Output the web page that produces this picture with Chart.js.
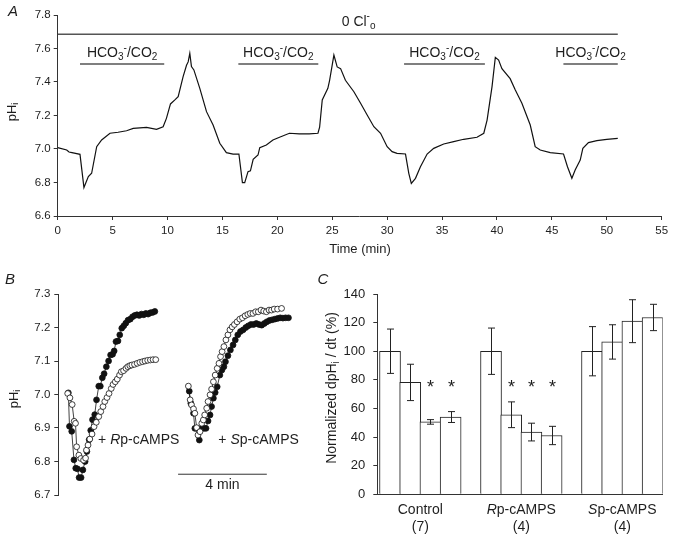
<!DOCTYPE html>
<html>
<head>
<meta charset="utf-8">
<script src="https://cdn.jsdelivr.net/npm/chart.js@4.4.1/dist/chart.umd.min.js"></script>
<style>
  body { margin: 0; background: #fff; width: 677px; height: 536px; overflow: hidden; position: relative; }
  .panel { position: absolute; }
</style>
</head>
<body>
<div class="panel" style="left:0;top:0"><canvas id="chartA" width="677" height="270"></canvas></div>
<div class="panel" style="left:0;top:270px"><canvas id="chartB" width="300" height="266"></canvas></div>
<div class="panel" style="left:290px;top:270px"><canvas id="chartC" width="387" height="266"></canvas></div>
<script>
// ---- panel A: pHi trace (min, pH)
const timeA = [
  0, 0.82, 1.03, 1.3, 2.03, 2.39, 2.79, 3.09, 3.55, 4.0,
  4.76, 5.5, 6.27, 6.88, 8.09, 9.0, 9.6, 9.9, 10.27, 10.67,
  10.97, 11.42, 11.73, 11.88, 12.03, 12.18, 12.4, 12.94, 13.55, 14.15,
  14.76, 15.36, 15.97, 16.5, 16.82, 17.03, 17.33, 17.55, 17.8, 18.24,
  18.4, 19.0, 19.6, 20.2, 21.1, 22.0, 22.9, 23.7, 23.85, 24.09,
  24.6, 24.76, 25.15, 25.45, 25.76, 26.2, 26.97, 27.58, 28.18, 28.79,
  29.4, 30.0, 30.45, 30.9, 31.67, 31.97, 32.2, 32.58, 33.03, 33.64,
  34.24, 35.15, 36.06, 36.97, 38.18, 38.8, 39.1, 39.55, 39.85, 40.15,
  40.45, 41.2, 41.67, 42.27, 43.03, 43.48, 43.94, 44.85, 46.06, 46.42,
  46.82, 47.12, 47.58, 47.82, 48.33, 49.1, 50.0, 51.0
];
const phA = [
  7.008, 6.994, 6.982, 6.978, 6.968, 6.77, 6.835, 6.855, 7.014, 7.054,
  7.094, 7.10, 7.109, 7.123, 7.129, 7.117, 7.133, 7.183, 7.269, 7.293,
  7.312, 7.432, 7.50, 7.52, 7.571, 7.492, 7.472, 7.362, 7.223, 7.143,
  7.034, 6.978, 6.97, 6.97, 6.799, 6.799, 6.865, 6.87, 6.938, 6.964,
  7.008, 7.024, 7.054, 7.07, 7.094, 7.09, 7.09, 7.094, 7.13, 7.293,
  7.362, 7.41, 7.561, 7.49, 7.48, 7.41, 7.342, 7.273, 7.203, 7.133,
  7.094, 7.014, 6.984, 6.974, 6.97, 6.855, 6.795, 6.825, 6.894, 6.97,
  7.004, 7.03, 7.044, 7.058, 7.07, 7.094, 7.173, 7.372, 7.547, 7.531,
  7.48, 7.42, 7.352, 7.273, 7.143, 7.014, 6.994, 6.978, 6.97, 6.894,
  6.825, 6.875, 6.934, 7.004, 7.038, 7.05, 7.058, 7.064
];
const chlorideFree = [0, 51];              // 0 Cl-o period (min)
const hcoStart = [2.03, 16.45, 31.54, 46.05];
const hcoEnd = [9.7, 23.73, 38.9, 51.0];

// ---- panel B: recovery traces (min, pH)
const tRpFilled = [0.45,0.50,0.60,0.70,0.78,0.86,0.93,1.02,1.10,1.20,1.28,1.38,1.45,1.53,1.63,1.71,1.81,1.88,1.97,2.05,2.15,2.25,2.34,2.43,2.50,2.58,2.67,2.75,2.84,2.93,3.02,3.12,3.22,3.32,3.42,3.52,3.62,3.72,3.82,3.92,4.02,4.12,4.22,4.32];
const phRpFilled = [7.005,6.905,6.89,6.805,6.78,6.778,6.752,6.752,6.775,6.80,6.83,6.865,6.893,6.925,6.94,6.984,7.025,7.025,7.05,7.062,7.083,7.10,7.118,7.12,7.13,7.158,7.16,7.178,7.198,7.205,7.213,7.222,7.225,7.232,7.236,7.238,7.236,7.24,7.238,7.242,7.24,7.244,7.245,7.248];
const tRpOpen = [0.42,0.52,0.62,0.71,0.77,0.82,0.92,1.01,1.13,1.22,1.26,1.33,1.41,1.51,1.60,1.70,1.81,1.90,2.00,2.08,2.18,2.27,2.37,2.45,2.55,2.64,2.74,2.82,2.92,3.03,3.11,3.20,3.29,3.41,3.53,3.65,3.77,3.88,4.00,4.12,4.24,4.36];
const phRpOpen = [7.003,6.99,6.97,6.92,6.914,6.844,6.819,6.809,6.804,6.81,6.834,6.849,6.867,6.882,6.904,6.917,6.934,6.949,6.964,6.979,6.991,7.003,7.018,7.030,7.038,7.046,7.058,7.068,7.071,7.078,7.083,7.086,7.088,7.09,7.093,7.096,7.098,7.10,7.102,7.103,7.104,7.104];
const tSpFilled = [5.86,5.93,6.05,6.11,6.19,6.31,6.40,6.52,6.61,6.70,6.79,6.86,6.94,7.02,7.11,7.23,7.32,7.41,7.48,7.59,7.70,7.82,7.92,8.03,8.15,8.27,8.39,8.50,8.62,8.74,8.86,8.98,9.10,9.22,9.33,9.45,9.57,9.69,9.81,9.93,10.05,10.17,10.30];
const phSpFilled = [7.01,6.974,6.944,6.899,6.899,6.864,6.899,6.899,6.899,6.921,6.939,6.964,6.989,7.006,7.023,7.058,7.073,7.083,7.098,7.116,7.133,7.148,7.163,7.178,7.188,7.193,7.20,7.205,7.209,7.209,7.212,7.209,7.207,7.212,7.217,7.221,7.223,7.225,7.227,7.229,7.228,7.229,7.229];
const tSpOpen = [5.82,5.90,5.96,6.05,6.11,6.19,6.25,6.34,6.42,6.49,6.55,6.64,6.70,6.79,6.86,6.94,7.02,7.11,7.19,7.26,7.33,7.41,7.50,7.59,7.68,7.78,7.88,8.00,8.12,8.24,8.36,8.48,8.59,8.71,8.83,8.95,9.07,9.19,9.31,9.43,9.54,9.66,9.81,9.99];
const phSpOpen = [7.025,6.984,6.969,6.957,6.944,6.901,6.879,6.889,6.914,6.924,6.939,6.959,6.979,6.999,7.016,7.038,7.058,7.078,7.093,7.113,7.128,7.143,7.163,7.178,7.193,7.202,7.209,7.217,7.225,7.229,7.235,7.239,7.242,7.242,7.247,7.247,7.252,7.249,7.247,7.252,7.252,7.255,7.255,7.257];
const scaleBarMin = [5.36, 9.33];          // 4 min

// ---- panel C: normalized dpHi/dt (%)
const groups = ['Control', 'Rp-cAMPS', 'Sp-cAMPS'];
const groupN = ['(7)', '(4)', '(4)'];
const controlMean = [100, 78.2, 50.6, 54.0];
const controlSem = [15.5, 12.7, 1.6, 3.8];
const rpMean = [100, 55.6, 43.5, 41.1];
const rpSem = [16.2, 9.0, 6.2, 6.4];
const spMean = [100, 106.5, 121.0, 123.6];
const spSem = [17.2, 12.0, 15.0, 9.2];
const controlSig = [false, false, true, true];
const rpSig = [false, true, true, true];
const spSig = [false, false, false, false];

// ---- shared
const FAM = '"Liberation Sans", Arial, Helvetica, sans-serif';
const INK = '#1e1e1e';
Chart.defaults.font.family = FAM;
Chart.defaults.color = INK;
Chart.defaults.animation = false;
Chart.defaults.plugins.legend.display = false;
Chart.defaults.plugins.tooltip.enabled = false;

// parts: [[text, mode]], mode '' | 'i' | 'sub' | 'sup'
function rich(ctx, parts, x, y, size, align, rot) {
  const font = m => (m === 'i' ? 'italic ' : '') + (m === 'sub' || m === 'sup' ? Math.round(size * 0.72) : size) + 'px ' + FAM;
  ctx.save();
  ctx.translate(x, y);
  if (rot) ctx.rotate(rot);
  let w = 0;
  parts.forEach(([t, m]) => { ctx.font = font(m); w += ctx.measureText(t).width; });
  let cx = align === 'center' ? -w / 2 : align === 'right' ? -w : 0;
  ctx.textAlign = 'left';
  ctx.textBaseline = 'middle';
  ctx.fillStyle = INK;
  parts.forEach(([t, m]) => {
    ctx.font = font(m);
    const dy = m === 'sub' ? size * 0.3 : m === 'sup' ? -size * 0.38 : 0;
    ctx.fillText(t, cx, dy);
    cx += ctx.measureText(t).width;
  });
  ctx.restore();
}

function axisStyle(extra) {
  return Object.assign({
    grid: { drawOnChartArea: false, tickLength: 4, color: '#333', lineWidth: 1 },
    border: { color: '#333', width: 1 }
  }, extra);
}

const HCO = [['HCO', ''], ['3', 'sub'], ['-', 'sup'], ['/CO', ''], ['2', 'sub']];
const PHI = [['pH', ''], ['i', 'sub']];

// ---------------- A
new Chart(document.getElementById('chartA'), {
  type: 'line',
  data: {
    datasets: [
      { data: timeA.map((t, i) => ({ x: t, y: phA[i] })), borderColor: '#111', borderWidth: 1.2, pointRadius: 0 },
      { data: chlorideFree.map(t => ({ x: t, y: 7.685 })), borderColor: '#555', borderWidth: 1.5, pointRadius: 0 },
      ...hcoStart.map((s, i) => ({
        data: [{ x: s, y: 7.507 }, { x: hcoEnd[i], y: 7.507 }],
        borderColor: '#555', borderWidth: 1.5, pointRadius: 0
      }))
    ]
  },
  options: {
    responsive: false,
    layout: { padding: { left: 0, right: 15.3, top: 15, bottom: 0 } },
    scales: {
      x: axisStyle({ type: 'linear', min: 0, max: 55, ticks: { stepSize: 5, padding: 4, font: { size: 11.5 } },
        afterFit: s => { s.height = 54; } }),
      y: axisStyle({ min: 6.6, max: 7.8, ticks: { stepSize: 0.2, padding: 3, font: { size: 11.5 }, callback: v => v.toFixed(1) },
        afterFit: s => { s.width = 57.7; } })
    }
  },
  plugins: [{
    id: 'labelsA',
    afterDraw(c) {
      const ctx = c.ctx, xs = c.scales.x, ys = c.scales.y;
      rich(ctx, [['A', 'i']], 13, 12, 15, 'center');
      rich(ctx, PHI, 12, 112, 13, 'center', -Math.PI / 2);
      rich(ctx, [['Time (min)', '']], 360, 249, 13, 'center');
      rich(ctx, [['0 Cl', ''], ['-', 'sup'], ['o', 'sub']], xs.getPixelForValue(27.4), ys.getPixelForValue(7.685) - 12.5, 14, 'center');
      hcoStart.forEach((s, i) => {
        rich(ctx, HCO, xs.getPixelForValue((s + hcoEnd[i]) / 2), ys.getPixelForValue(7.507) - 11, 14, 'center');
      });
    }
  }]
});

// ---------------- B
function trace(ts, ps, fill) {
  return {
    data: ts.map((t, i) => ({ x: t, y: ps[i] })),
    borderColor: '#111', borderWidth: 0.8,
    pointRadius: 2.9, pointBorderWidth: 0.8, pointBorderColor: '#111', pointBackgroundColor: fill,
    clip: false
  };
}
new Chart(document.getElementById('chartB'), {
  type: 'line',
  data: {
    datasets: [
      trace(tRpOpen, phRpOpen, '#fff'),
      trace(tSpOpen, phSpOpen, '#fff'),
      trace(tRpFilled, phRpFilled, '#111'),
      trace(tSpFilled, phSpFilled, '#111'),
      { data: scaleBarMin.map(t => ({ x: t, y: 6.762 })), borderColor: '#333', borderWidth: 1, pointRadius: 0 }
    ]
  },
  options: {
    responsive: false,
    layout: { padding: { left: 0, right: 3.2, top: 24, bottom: 41 } },
    scales: {
      x: { type: 'linear', display: false, min: 0, max: 10.6 },
      y: axisStyle({ min: 6.7, max: 7.3, ticks: { stepSize: 0.1, padding: 4, font: { size: 11.5 }, callback: v => v.toFixed(1) },
        afterFit: s => { s.width = 58.3; } })
    }
  },
  plugins: [{
    id: 'labelsB',
    afterDraw(c) {
      const ctx = c.ctx, xs = c.scales.x, ys = c.scales.y;
      rich(ctx, [['B', 'i']], 10, 10, 15, 'center');
      rich(ctx, PHI, 14, 129, 13, 'center', -Math.PI / 2);
      rich(ctx, [['+ ', ''], ['R', 'i'], ['p-cAMPS', '']], xs.getPixelForValue(1.78), ys.getPixelForValue(6.864), 14, 'left');
      rich(ctx, [['+ ', ''], ['S', 'i'], ['p-cAMPS', '']], xs.getPixelForValue(7.16), ys.getPixelForValue(6.864), 14, 'left');
      rich(ctx, [['4 min', '']], xs.getPixelForValue((scaleBarMin[0] + scaleBarMin[1]) / 2), ys.getPixelForValue(6.762) + 11, 14, 'center');
    }
  }]
});

// ---------------- C
const means = [controlMean, rpMean, spMean];
const sems = [controlSem, rpSem, spSem];
const sigs = [controlSig, rpSig, spSig];
const bars = [], barSem = [], barSig = [];
means.forEach((arr, g) => arr.forEach((m, j) => {
  bars.push({ x: g * 5 + j, y: m });
  barSem.push(sems[g][j]);
  barSig.push(sigs[g][j]);
}));

new Chart(document.getElementById('chartC'), {
  type: 'bar',
  data: {
    datasets: [{
      data: bars, backgroundColor: '#fff', borderColor: '#222', borderWidth: 1,
      barThickness: 21, borderSkipped: 'start'
    }]
  },
  options: {
    responsive: false,
    layout: { padding: { left: 0, right: 14.3, top: 24, bottom: 0 } },
    scales: {
      x: { type: 'linear', offset: false, min: -0.63, max: 13.5, ticks: { display: false },
        grid: { display: false, offset: false }, border: { color: '#333', width: 1 },
        afterFit: s => { s.height = 41.7; } },
      y: axisStyle({ min: 0, max: 140, ticks: { stepSize: 20, padding: 8, font: { size: 13 } },
        afterFit: s => { s.width = 87.3; } })
    }
  },
  plugins: [{
    id: 'errorBarsC',
    afterDatasetsDraw(c) {
      const ctx = c.ctx, xs = c.scales.x, ys = c.scales.y;
      ctx.save();
      ctx.strokeStyle = '#222';
      ctx.lineWidth = 1;
      bars.forEach((b, i) => {
        const x = Math.round(xs.getPixelForValue(b.x)) + 0.5;
        const y1 = ys.getPixelForValue(b.y + barSem[i]);
        const y2 = ys.getPixelForValue(b.y - barSem[i]);
        ctx.beginPath();
        ctx.moveTo(x, y1); ctx.lineTo(x, y2);
        ctx.moveTo(x - 3.5, y1); ctx.lineTo(x + 3.5, y1);
        ctx.moveTo(x - 3.5, y2); ctx.lineTo(x + 3.5, y2);
        ctx.stroke();
        if (barSig[i]) {
          ctx.fillStyle = INK;
          ctx.font = '18px ' + FAM;
          ctx.textAlign = 'center';
          ctx.textBaseline = 'alphabetic';
          ctx.fillText('*', x, ys.getPixelForValue(78) + 10);
        }
      });
      ctx.restore();
    },
    afterDraw(c) {
      const ctx = c.ctx, xs = c.scales.x, ca = c.chartArea;
      rich(ctx, [['C', 'i']], 33, 10, 15, 'center');
      rich(ctx, [['Normalized dpH', ''], ['i', 'sub'], [' / dt (%)', '']], 42, 118, 14, 'center', -Math.PI / 2);
      groups.forEach((g, gi) => {
        const m = g.match(/^([RS])(p-.*)$/);
        const parts = m ? [[m[1], 'i'], [m[2], '']] : [[g, '']];
        const x = xs.getPixelForValue(gi * 5 + 1.5);
        rich(ctx, parts, x, ca.bottom + 15.5, 14, 'center');
        rich(ctx, [[groupN[gi], '']], x, ca.bottom + 32.5, 14, 'center');
      });
    }
  }]
});
</script>
</body>
</html>
